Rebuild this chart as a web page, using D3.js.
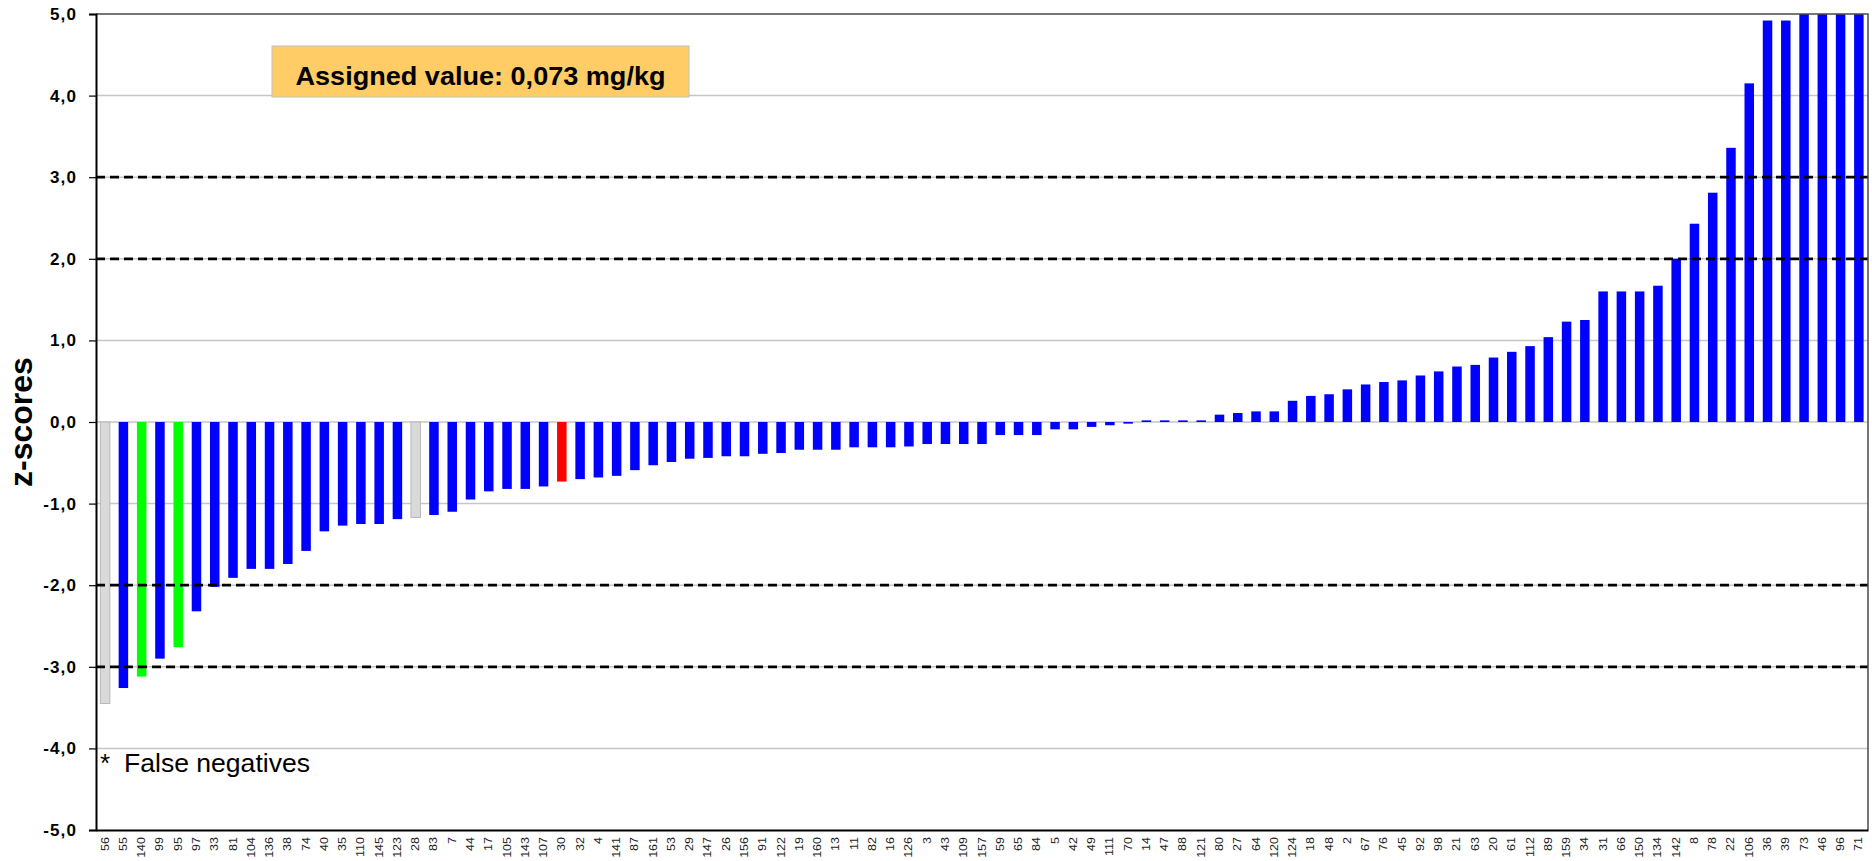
<!DOCTYPE html>
<html>
<head>
<meta charset="utf-8">
<script src="https://cdn.jsdelivr.net/npm/d3@7"></script>
<style>
  html, body { margin: 0; padding: 0; background: #ffffff; }
  svg { display: block; font-family: "Liberation Sans", Arial, sans-serif; }
</style>
</head>
<body>
<svg id="chart" width="1872" height="861"></svg>
<script>
// Laboratory codes, ordered by z-score
const labCodes = ["56","55","140","99","95","97","33","81","104","136","38","74","40","35","110","145","123","28","83","7",
  "44","17","105","143","107","30","32","4","141","87","161","53","29","147","26","156","91","122","19","160",
  "13","11","82","16","126","3","43","109","157","59","65","84","5","42","49","111","70","14","47","88",
  "121","80","27","64","120","124","18","48","2","67","76","45","92","98","21","63","20","61","112","89",
  "159","34","31","66","150","134","142","8","78","22","106","36","39","73","46","96","71"];

// z-score of each laboratory
const zScores = [-3.45,-3.26,-3.12,-2.90,-2.76,-2.32,-2.02,-1.91,-1.80,-1.80,-1.74,-1.58,-1.34,-1.27,-1.25,-1.25,-1.19,-1.17,-1.14,-1.10,
  -0.95,-0.85,-0.82,-0.82,-0.79,-0.73,-0.70,-0.68,-0.66,-0.59,-0.53,-0.49,-0.45,-0.44,-0.42,-0.42,-0.39,-0.38,-0.34,-0.34,
  -0.34,-0.31,-0.31,-0.31,-0.30,-0.27,-0.27,-0.27,-0.27,-0.16,-0.16,-0.16,-0.09,-0.09,-0.06,-0.04,-0.02,0.02,0.02,0.02,
  0.02,0.09,0.11,0.13,0.13,0.26,0.32,0.34,0.40,0.46,0.49,0.51,0.57,0.62,0.68,0.70,0.79,0.86,0.93,1.04,
  1.23,1.25,1.60,1.60,1.60,1.67,2.00,2.43,2.81,3.36,4.15,4.92,4.92,5.00,5.00,5.00,5.00];

// Labs drawn in other colours
const greyLabs = ["56","28"];
const greenLabs = ["140","95"];
const redLabs = ["30"];

// Axis ticks and limit lines
const yTicks = [5,4,3,2,1,0,-1,-2,-3,-4,-5];
const limitLines = [3,2,-2,-3];

const assignedText = "Assigned value: 0,073 mg/kg";
const footnoteMark = "*";
const footnoteText = "False negatives";
const yTitle = "z-scores";

const svg = d3.select("#chart");
const plot = { left: 96, right: 1868, top: 14, bottom: 830 };

const x = d3.scaleBand()
  .domain(labCodes)
  .range([plot.left, plot.right])
  .paddingInner(0.48)
  .paddingOuter(0.24);

const y = d3.scaleLinear()
  .domain([-5, 5])
  .range([plot.bottom, plot.top]);

const fmt = v => d3.format(".1f")(v).replace(".", ",").replace("−", "-");

// Horizontal gridlines
svg.append("g")
  .selectAll("line")
  .data(yTicks.filter(t => t !== 5 && t !== -5))
  .join("line")
  .attr("x1", plot.left).attr("x2", plot.right)
  .attr("y1", d => y(d)).attr("y2", d => y(d))
  .attr("stroke", "#c6c6c6")
  .attr("stroke-width", 1.5);

// Bars
const colourOf = code =>
  greyLabs.includes(code) ? "#d9d9d9" :
  greenLabs.includes(code) ? "#00ff00" :
  redLabs.includes(code) ? "#ff0000" : "#0000ff";

svg.append("defs").append("clipPath").attr("id", "plotClip")
  .append("rect")
  .attr("x", plot.left).attr("y", plot.top)
  .attr("width", plot.right - plot.left).attr("height", plot.bottom - plot.top);

svg.append("g")
  .attr("clip-path", "url(#plotClip)")
  .selectAll("rect")
  .data(labCodes.map((c, i) => ({ code: c, z: zScores[i] })))
  .join("rect")
  .attr("x", d => x(d.code))
  .attr("width", x.bandwidth())
  .attr("y", d => y(Math.max(0, d.z)))
  .attr("height", d => Math.abs(y(d.z) - y(0)))
  .attr("fill", d => colourOf(d.code))
  .attr("stroke", d => greyLabs.includes(d.code) ? "#b8b8b8" : "none")
  .attr("stroke-width", 1);

// Dashed limit lines at ±2 and ±3
svg.append("g")
  .selectAll("line")
  .data(limitLines)
  .join("line")
  .attr("x1", plot.left).attr("x2", plot.right)
  .attr("y1", d => y(d)).attr("y2", d => y(d))
  .attr("stroke", "#000000")
  .attr("stroke-width", 2.7)
  .attr("stroke-dasharray", "9,5");

// Plot frame (top and right)
svg.append("path")
  .attr("d", `M${plot.left},${plot.top}H${plot.right}V${plot.bottom}`)
  .attr("fill", "none")
  .attr("stroke", "#4a4a4a")
  .attr("stroke-width", 1.5);

// Y axis
const yAxis = svg.append("g")
  .attr("transform", `translate(${plot.left},0)`)
  .call(d3.axisLeft(y).tickValues(yTicks).tickSize(7).tickPadding(12).tickFormat(fmt));
yAxis.select(".domain").attr("stroke", "#000").attr("stroke-width", 2);
yAxis.selectAll(".tick line").attr("stroke", "#000").attr("stroke-width", 1.2);
yAxis.selectAll(".tick text")
  .attr("font-family", "Liberation Sans, Arial, sans-serif")
  .attr("font-size", 17)
  .attr("font-weight", "bold")
  .attr("fill", "#000")
  .attr("letter-spacing", 1.1);

// X axis (bottom) with rotated lab codes
const xAxis = svg.append("g")
  .attr("transform", `translate(0,${plot.bottom})`)
  .call(d3.axisBottom(x).tickSize(0).tickPadding(0));
xAxis.select(".domain").attr("stroke", "#000").attr("stroke-width", 2);
xAxis.selectAll(".tick text")
  .attr("font-family", "Liberation Sans, Arial, sans-serif")
  .attr("font-size", 10)
  .attr("fill", "#222")
  .attr("text-anchor", "end")
  .attr("dy", null)
  .attr("y", 0)
  .attr("transform", "translate(3.5,7) rotate(-90) scale(1.25,1)");

// Y axis title
svg.append("text")
  .attr("transform", `translate(32,${(plot.top + plot.bottom) / 2}) rotate(-90)`)
  .attr("text-anchor", "middle")
  .attr("font-size", 32)
  .attr("font-weight", "bold")
  .attr("fill", "#000")
  .text(yTitle);

// Assigned value box
const box = { x: 272, y: 46, w: 417, h: 51 };
svg.append("rect")
  .attr("x", box.x).attr("y", box.y)
  .attr("width", box.w).attr("height", box.h)
  .attr("fill", "#ffcc66")
  .attr("stroke", "#c0c0c0")
  .attr("stroke-width", 1);
svg.append("text")
  .attr("x", box.x + box.w / 2)
  .attr("y", 85)
  .attr("text-anchor", "middle")
  .attr("font-size", 25)
  .attr("font-weight", "bold")
  .attr("fill", "#000")
  .attr("textLength", 370)
  .attr("lengthAdjust", "spacingAndGlyphs")
  .text(assignedText);

// Footnote
svg.append("text")
  .attr("x", 100).attr("y", 772)
  .attr("font-size", 26)
  .attr("fill", "#000")
  .text(footnoteMark);
svg.append("text")
  .attr("x", 124).attr("y", 772)
  .attr("font-size", 26)
  .attr("fill", "#000")
  .attr("textLength", 186)
  .attr("lengthAdjust", "spacingAndGlyphs")
  .text(footnoteText);
</script>
</body>
</html>
